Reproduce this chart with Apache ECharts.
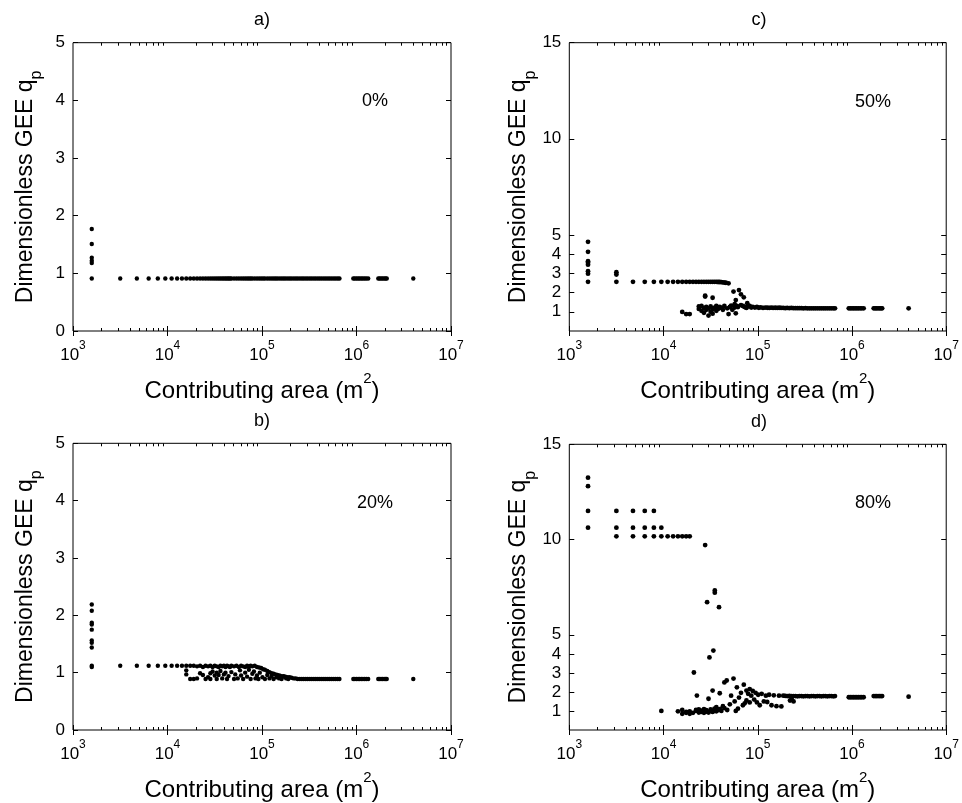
<!DOCTYPE html>
<html><head><meta charset="utf-8">
<script src="https://cdn.jsdelivr.net/npm/echarts@6/dist/echarts.min.js"></script>
<style>html,body{margin:0;padding:0;background:#fff}#c{width:962px;height:803px}</style>
</head><body><div id="c"></div>
<script>
// ---------------- data ----------------
const panelTitles = ['a)', 'b)', 'c)', 'd)'];
const percentLabels = ['0%', '20%', '50%', '80%'];
const xTickExponents = [3, 4, 5, 6, 7];
const yTicksLow = [0, 1, 2, 3, 4, 5];
const yTicksHigh = [1, 2, 3, 4, 5, 10, 15];
const xAxisTitle = 'Contributing area (m';
const yAxisTitle = 'Dimensionless GEE q';

// panel a) 0%
const pointsA = [
  [1580,1.77],[1580,1.51],[1580,1.27],[1580,1.22],[1580,1.18],[1580,0.91],
  [3160,0.91],[4740,0.91],[6320,0.91],[7900,0.91],[9480,0.91],[11060,0.91],[12640,0.91],[14220,0.91],
  [15800,0.91],[17380,0.91],[18960,0.91],[20540,0.91],[22120,0.91],[23700,0.91],[25280,0.91],[26860,0.91],
  [28440,0.91],[30020,0.91],[31600,0.91],[33180,0.91],[34760,0.91],[36340,0.91],[37920,0.91],[39500,0.91],
  [41080,0.91],[42660,0.91],[44240,0.91],[45820,0.91],[47400,0.91],[50560,0.91],[53720,0.91],[56880,0.91],
  [60040,0.91],[63200,0.91],[66360,0.91],[69520,0.91],[72680,0.91],[75840,0.91],[79000,0.91],[83740,0.91],
  [88480,0.91],[93220,0.91],[97960,0.91],[102700,0.91],[107440,0.91],[113760,0.91],[120080,0.91],[126400,0.91],
  [132720,0.91],[139040,0.91],[145360,0.91],[153260,0.91],[161160,0.91],[169060,0.91],[176960,0.91],
  [186440,0.91],[195920,0.91],[205400,0.91],[216460,0.91],[227520,0.91],[238580,0.91],[251220,0.91],
  [263860,0.91],[276500,0.91],[290720,0.91],[304940,0.91],[320740,0.91],[336540,0.91],[353920,0.91],
  [371300,0.91],[390260,0.91],[409220,0.91],[429760,0.91],[451880,0.91],[474000,0.91],[497700,0.91],
  [521400,0.91],[547480,0.91],[575120,0.91],[602760,0.91],[632780,0.91],[660000,0.91],
  [925000,0.91],[960000,0.91],[1000000,0.91],[1040000,0.91],[1080000,0.91],[1125000,0.91],[1170000,0.91],
  [1220000,0.91],[1270000,0.91],[1330000,0.91],
  [1700000,0.91],[1760000,0.91],[1820000,0.91],[1890000,0.91],[1960000,0.91],[2030000,0.91],[2090000,0.91],
  [3990000,0.91]
];

// panel b) 20%
const pointsB = [
  [1580,2.19],[1580,2.08],[1580,1.87],[1580,1.84],[1580,1.75],[1580,1.56],[1580,1.52],[1580,1.44],[1580,1.12],[1580,1.10],
  [3160,1.12],[4740,1.12],[6320,1.12],[7900,1.12],[9480,1.12],[11060,1.12],[12640,1.12],[14220,1.12],[15800,1.12],
  [17380,1.12],[18960,1.12],[20540,1.11],[22120,1.12],[23700,1.10],[25280,1.12],[26860,1.11],[28440,1.12],
  [30020,1.10],[31600,1.12],[33180,1.11],[34760,1.10],[36340,1.12],[37920,1.11],[39500,1.12],[41080,1.10],
  [42660,1.12],[44240,1.11],[45820,1.10],[47400,1.12],[50560,1.11],[53720,1.12],[56880,1.10],[60040,1.12],
  [63200,1.11],[66360,1.10],[69520,1.12],[72680,1.11],[75840,1.12],[79000,1.11],[83740,1.12],[88480,1.10],
  [93220,1.09],[97960,1.08],[102700,1.06],[107440,1.05],[113760,1.03],[120080,1.01],[126400,0.99],
  [132720,0.98],[139040,0.97],[145360,0.96],[153260,0.95],[161160,0.94],[169060,0.94],[176960,0.93],
  [186440,0.92],[195920,0.92],[205400,0.91],[216460,0.90],[227520,0.90],[238580,0.89],[251220,0.89],
  [263860,0.89],[276500,0.89],[290720,0.89],[304940,0.89],[320740,0.89],[336540,0.89],[353920,0.89],
  [371300,0.89],[390260,0.89],[409220,0.89],[429760,0.89],[451880,0.89],[474000,0.89],[497700,0.89],
  [521400,0.89],[547480,0.89],[575120,0.89],[602760,0.89],[632780,0.89],[660000,0.89],
  [925000,0.89],[960000,0.89],[1000000,0.89],[1040000,0.89],[1080000,0.89],[1125000,0.89],[1170000,0.89],
  [1220000,0.89],[1270000,0.89],[1330000,0.89],
  [1700000,0.89],[1760000,0.89],[1820000,0.89],[1890000,0.89],[1960000,0.89],[2030000,0.89],[2090000,0.89],
  [3990000,0.89],
  [15800,1.04],[15800,0.97],[17380,0.89],[18960,0.89],[20540,0.90],[22120,0.99],[23700,0.96],[25280,0.89],
  [26860,0.92],[28440,0.89],[28440,0.99],[30020,1.02],[31600,0.95],[33180,0.89],[33180,1.00],[34760,0.96],
  [36340,1.03],[37920,0.90],[39500,0.97],[41080,1.00],[42660,0.89],[44240,0.94],[47400,1.01],[50560,0.89],
  [52140,0.97],[55300,0.90],[58460,1.04],[60040,0.95],[63200,0.89],[66360,1.00],[69520,0.93],[72680,1.05],
  [75840,0.89],[79000,0.98],[82160,1.02],[85320,0.90],[88480,0.95],[91640,0.89],[94800,1.00],[101120,0.92],
  [107440,0.89],[113760,0.96],[120080,0.90],[126400,0.94],[132720,0.89],[142200,0.92],[151680,0.90],
  [161160,0.89],[170640,0.93],[180120,0.90],[189600,0.89]
];

// panel c) 50%
const pointsC = [
  [1580,4.64],[1580,4.12],[1580,3.63],[1580,3.55],[1580,3.45],[1580,3.11],[1580,2.98],[1580,2.56],
  [3160,3.06],[3160,2.94],[3160,2.56],
  [4740,2.56],[6320,2.56],[7900,2.56],[9480,2.56],[11060,2.56],[12640,2.56],[14220,2.56],[15800,2.56],
  [17380,2.56],[18960,2.56],[20540,2.56],[22120,2.56],[23700,2.56],[25280,2.56],[26860,2.56],[28440,2.56],
  [30020,2.56],[31600,2.56],[33180,2.56],[34760,2.56],[36340,2.56],[37920,2.55],[39500,2.55],[41080,2.54],
  [42660,2.53],[44240,2.52],[45820,2.51],[48980,2.48],
  [15800,0.99],[17380,0.88],[18960,0.88],
  [23700,1.28],[23700,1.15],[25280,1.05],[25280,1.30],[26860,0.95],[26860,1.20],[27650,1.84],[27650,1.79],
  [28440,1.10],[28440,1.25],[30020,0.80],[30020,1.18],[31600,1.00],[31600,1.28],[33180,1.73],[33180,1.12],
  [33180,0.90],[34760,1.22],[36340,1.05],[36340,1.30],[37920,1.15],[39500,1.25],[41080,1.20],[42660,1.10],
  [44240,1.30],[47400,1.18],[49000,0.88],[50560,1.25],[52140,1.32],[53720,1.10],[55300,2.05],[56880,1.40],
  [56880,1.22],[58460,1.61],[58460,0.92],[60040,1.30],[61620,1.25],[63200,2.13],[66360,1.91],[66360,1.35],
  [69520,1.30],[71100,1.75],[72680,1.25],[75840,1.20],[77420,1.45],[79000,1.28],[82160,1.30],[85320,1.22],
  [88480,1.26],[93220,1.22],[97960,1.25],[102700,1.21],[107440,1.23],[113760,1.20],[120080,1.22],
  [126400,1.21],[132720,1.20],[139040,1.22],[145360,1.20],[153260,1.21],[161160,1.20],[169060,1.21],
  [176960,1.20],[186440,1.20],[195920,1.19],[205400,1.20],[216460,1.19],[227520,1.20],[238580,1.19],
  [251220,1.19],[263860,1.19],[276500,1.19],[290720,1.19],[304940,1.18],[320740,1.19],[336540,1.18],
  [353920,1.18],[371300,1.18],[390260,1.18],[409220,1.18],[429760,1.18],[451880,1.18],[474000,1.18],
  [497700,1.18],[521400,1.18],[547480,1.18],[575120,1.18],[602760,1.18],[632780,1.18],[660000,1.18],
  [925000,1.18],[960000,1.18],[1000000,1.18],[1040000,1.18],[1080000,1.18],[1125000,1.18],[1170000,1.18],
  [1220000,1.18],[1270000,1.18],[1330000,1.18],
  [1700000,1.18],[1760000,1.18],[1820000,1.18],[1890000,1.18],[1960000,1.18],[2030000,1.18],[2090000,1.18],
  [3990000,1.18]
];

// panel d) 80%
const pointsD = [
  [1580,13.25],[1580,12.8],[1580,11.5],[1580,10.62],
  [3160,11.5],[3160,10.62],[3160,10.17],[4740,11.5],[4740,10.62],[4740,10.17],[6320,11.5],[6320,10.62],[6320,10.17],
  [7900,11.5],[7900,10.62],[7900,10.17],[9480,10.62],[9480,10.17],[11060,10.17],[12640,10.17],[14220,10.17],
  [15800,10.17],[17380,10.17],[18960,10.17],
  [27650,9.71],[35000,7.33],[35000,7.21],[29000,6.71],[38800,6.45],[33800,4.17],[30700,3.81],[21000,3.02],[22600,1.81],
  [9480,1.00],
  [14220,0.98],[15800,0.85],[15800,1.05],[17380,0.90],[17380,0.95],[18960,0.85],[18960,0.98],[20540,0.90],
  [22120,1.00],[22120,1.05],[23700,0.92],[23700,1.08],[25280,0.95],[25280,1.02],[26860,0.90],[26860,1.10],
  [28440,0.96],[28440,1.04],[30020,0.92],[30020,1.64],[31600,1.00],[31600,1.08],[33180,0.95],[33180,2.07],
  [34760,1.02],[34760,1.12],[36340,0.98],[36340,1.20],[37920,1.05],[39500,1.93],[39500,1.10],[41080,1.00],
  [42660,1.25],[44240,2.50],[44240,1.15],[46800,2.60],[47400,1.05],[50560,1.35],[52140,1.80],[55300,2.70],
  [56880,1.50],[58460,1.00],[60040,2.24],[61620,1.12],[63200,1.70],[66360,1.95],[69520,1.30],[71100,2.38],
  [72680,1.40],[75840,2.07],[75840,1.55],[79000,1.90],[82160,2.15],[82160,1.45],[85320,1.80],[88480,2.05],
  [91640,1.60],[94800,1.95],[98000,1.45],[101000,1.85],[105000,1.30],[110000,1.90],[116000,1.50],
  [122000,1.80],[126000,1.47],[132000,1.85],[140000,1.30],[148000,1.82],[158000,1.25],[168000,1.80],
  [178000,1.24],[186440,1.80],[195920,1.79],[205400,1.78],[216460,1.79],[220000,1.55],[227520,1.78],
  [230000,1.60],[238580,1.78],[240000,1.50],
  [251220,1.78],[263860,1.77],[276500,1.78],[290720,1.78],[304940,1.77],[320740,1.78],[336540,1.78],
  [353920,1.77],[371300,1.78],[390260,1.78],[409220,1.77],[429760,1.78],[451880,1.78],[474000,1.77],
  [497700,1.78],[521400,1.78],[547480,1.77],[575120,1.78],[602760,1.78],[632780,1.77],[660000,1.78],
  [925000,1.72],[960000,1.72],[1000000,1.72],[1040000,1.72],[1080000,1.72],[1125000,1.72],[1170000,1.72],
  [1220000,1.72],[1270000,1.72],[1330000,1.72],
  [1700000,1.78],[1760000,1.78],[1820000,1.78],[1890000,1.78],[1960000,1.78],[2030000,1.78],[2090000,1.78],
  [3990000,1.75]
];

// --------------- layout -----------------
const FONT = 'Liberation Sans';
const grids = [
  {left: 73, top: 42.7, width: 378, height: 288.3},
  {left: 73, top: 443.3, width: 378, height: 289},
  {left: 569.3, top: 42.7, width: 379.4, height: 288.3},
  {left: 569.3, top: 444.3, width: 379.4, height: 288}
];
const panelData = [pointsA, pointsB, pointsC, pointsD];
const titlePos = [[262, 20], [262, 421], [759, 20], [759, 422]];
const pctPos = [[375, 101], [375, 503], [873, 102], [873, 503]];

const minorLogs = [];
for (let e = 3; e < 7; e++) for (let k = 2; k <= 9; k++) minorLogs.push(Math.log10(k * Math.pow(10, e)));

const xAxes = [], yAxes = [], series = [], graphics = [];
grids.forEach((g, i) => {
  const high = i >= 2;
  const logBase = {
    type: 'log', logBase: 10, min: Math.pow(10, xTickExponents[0]), max: Math.pow(10, xTickExponents[xTickExponents.length - 1]),
    gridIndex: i, axisLine: {show: false}, splitLine: {show: false},
    axisTick: {inside: true, length: 5, lineStyle: {color: '#000', width: 1}}
  };
  xAxes.push(Object.assign({}, logBase, {
    position: 'bottom',
    axisLabel: {
      margin: 9, color: '#000',
      formatter: v => '{b|10}{s|' + Math.round(Math.log10(v)) + '}',
      rich: {
        b: {fontSize: 17, fontFamily: FONT, color: '#000', padding: [7, 0, 0, 0]},
        s: {fontSize: 12, fontFamily: FONT, color: '#000', verticalAlign: 'top'}
      }
    },
    name: '{t|' + xAxisTitle + '}{s|2}{t|)}',
    nameLocation: 'middle', nameGap: 40,
    nameTextStyle: {
      rich: {
        t: {fontSize: 24, fontFamily: FONT, color: '#000', padding: [8, 0, 0, 0]},
        s: {fontSize: 15, fontFamily: FONT, color: '#000', verticalAlign: 'top'}
      }
    }
  }));
  xAxes.push(Object.assign({}, logBase, {position: 'top', axisLabel: {show: false}}));
  const minorBase = {
    type: 'value', min: xTickExponents[0], max: xTickExponents[xTickExponents.length - 1], gridIndex: i,
    axisLine: {show: false}, splitLine: {show: false},
    axisLabel: {show: false, customValues: minorLogs},
    axisTick: {inside: true, length: 3, customValues: minorLogs, lineStyle: {color: '#000', width: 1}}
  };
  xAxes.push(Object.assign({}, minorBase, {position: 'bottom'}));
  xAxes.push(Object.assign({}, minorBase, {position: 'top'}));

  const ticks = high ? yTicksHigh : yTicksLow;
  const yBase = {
    type: 'value', min: 0, max: high ? 15 : 5, gridIndex: i,
    axisLine: {show: false}, splitLine: {show: false},
    axisTick: {inside: true, length: 5, customValues: ticks, lineStyle: {color: '#000', width: 1}}
  };
  yAxes.push(Object.assign({}, yBase, {
    position: 'left',
    axisLabel: {customValues: ticks, margin: 8, color: '#000', fontSize: 17, fontFamily: FONT},
    name: '{t|' + yAxisTitle + '}{p|p}',
    nameLocation: 'middle', nameGap: 28,
    nameTextStyle: {
      rich: {
        t: {fontSize: 23, fontFamily: FONT, color: '#000', padding: [0, 0, 8, 0]},
        p: {fontSize: 16, fontFamily: FONT, color: '#000', verticalAlign: 'bottom'}
      }
    }
  }));
  yAxes.push(Object.assign({}, yBase, {position: 'right', axisLabel: {show: false, customValues: ticks}}));

  series.push({
    type: 'scatter', xAxisIndex: i * 4, yAxisIndex: i * 2,
    data: panelData[i], symbol: 'circle', symbolSize: high ? 4.8 : 4.4,
    itemStyle: {color: '#000', opacity: 1}, silent: true
  });

  graphics.push({
    type: 'text', x: titlePos[i][0], y: titlePos[i][1],
    style: {text: panelTitles[i], fill: '#000', font: '18px "' + FONT + '"', align: 'center', verticalAlign: 'middle'}
  });
  graphics.push({
    type: 'text', x: pctPos[i][0], y: pctPos[i][1],
    style: {text: percentLabels[i], fill: '#000', font: '18px "' + FONT + '"', align: 'center', verticalAlign: 'middle'}
  });
});

const chart = echarts.init(document.getElementById('c'), null, {renderer: 'canvas'});
chart.setOption({
  animation: false,
  backgroundColor: '#fff',
  textStyle: {fontFamily: FONT},
  grid: grids.map(g => Object.assign({show: true, borderColor: '#000', borderWidth: 1, backgroundColor: 'transparent', containLabel: false}, g)),
  xAxis: xAxes,
  yAxis: yAxes,
  series: series,
  graphic: graphics
});
</script>
</body></html>
